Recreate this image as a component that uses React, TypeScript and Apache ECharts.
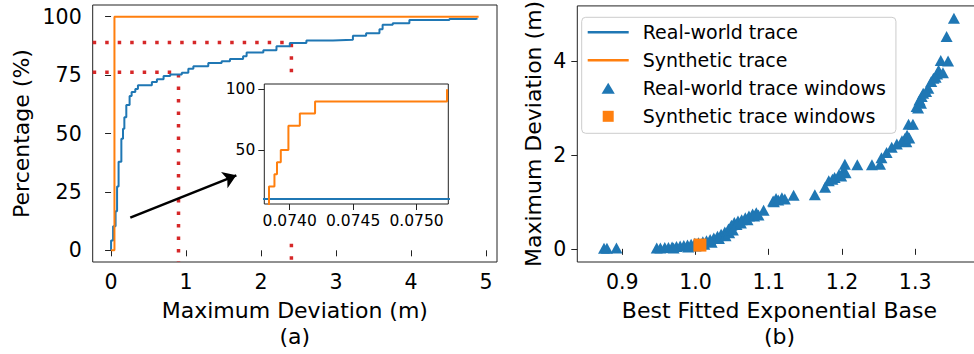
import React, { useEffect, useRef } from "react";
import * as echarts from "echarts";

const FONT = "DejaVu Sans";
const BLUE = "#1f77b4";
const ORANGE = "#ff7f0e";
const RED = "#d62728";

// (a) CDF of maximum deviation, real-world trace: [deviation (m), percentage]
const realCdfX = [0, 0, 0.027, 0.06, 0.08, 0.1, 0.137, 0.159, 0.177, 0.203, 0.247, 0.274, 0.323, 0.358, 0.544, 0.611, 0.7, 0.788, 0.943, 1.03, 1.097, 1.296, 1.474, 1.585, 1.76, 1.807, 2.03, 2.205, 2.383, 2.604, 2.958, 3.224, 3.4, 3.578, 3.62, 3.755, 3.977, 4.51, 4.86, 4.885];
const realCdfY = [0, 4.2, 10.3, 16.7, 27.3, 37.9, 47.8, 52, 57, 62.2, 66.1, 67.8, 69, 70.6, 72, 73.2, 74.6, 75.3, 76, 77.7, 78.8, 80.2, 80.9, 81.9, 83.1, 84.7, 85.6, 87.3, 88.7, 89.8, 90.1, 91.8, 92.9, 94.6, 96.5, 97.2, 98.6, 99, 99.3, 99.3];
// synthetic trace
const synCdfX = [0, 0.045, 0.045, 4.9];
const synCdfY = [0, 0, 100, 100];
// inset (zoom of synthetic trace)
const insetSynX = [0.07375, 0.073837, 0.07388, 0.0739, 0.07393, 0.07399, 0.07408, 0.0742, 0.07524];
const insetSynY = [0, 20, 30, 40, 50, 70, 80, 90, 100];
const insetRealX = [0.0737, 0.0753];
const insetRealY = [9.6, 9.6];
// reference markers (percentiles)
const markDevs = [0.899, 2.404];
const markPcts = [76.2, 89];
// arrow from main plot to inset
const arrowFrom = [0.256, 14.0];
const arrowTo = [1.67, 32.1];

// (b) windows: best fitted exponential base vs maximum deviation
const realBase = [0.875, 0.879, 0.892, 0.947, 0.952, 0.958, 0.963, 0.968, 0.974, 0.979, 0.984, 0.989, 0.994, 0.999, 1.004, 1.01, 1.015, 1.02, 1.025, 1.03, 1.035, 1.04, 1.045, 1.049, 1.053, 1.058, 1.063, 1.068, 1.073, 1.078, 1.083, 1.093, 1.106, 1.11, 1.118, 1.134, 1.163, 1.177, 1.182, 1.19, 1.196, 1.202, 1.204, 1.221, 1.241, 1.252, 1.254, 1.261, 1.268, 1.275, 1.282, 1.286, 1.289, 1.291, 1.297, 1.302, 1.306, 1.309, 1.311, 1.318, 1.322, 1.325, 1.33, 1.332, 1.335, 1.345, 1.343, 1.353,
  0.97, 0.99, 1.0, 1.012, 1.022, 1.032, 1.041, 1.046, 1.051, 1.056, 1.062, 1.071, 1.08, 1.086, 1.107, 1.113, 1.122, 1.187, 1.199, 1.205, 1.288, 1.292, 1.304, 1.308, 1.315, 1.328, 1.338];
const realDev = [0.01, 0.01, 0.02, 0.02, 0.02, 0.03, 0.03, 0.04, 0.05, 0.06, 0.07, 0.08, 0.1, 0.12, 0.13, 0.15, 0.17, 0.2, 0.23, 0.27, 0.31, 0.36, 0.42, 0.5, 0.56, 0.59, 0.62, 0.66, 0.7, 0.74, 0.77, 0.82, 1.02, 1.07, 1.09, 1.14, 1.15, 1.31, 1.45, 1.52, 1.58, 1.66, 1.8, 1.79, 1.79, 1.8, 1.94, 2.05, 2.16, 2.23, 2.3, 2.35, 2.42, 2.65, 2.65, 3.03, 3.17, 3.24, 3.31, 3.42, 3.56, 3.63, 3.72, 3.8, 4.01, 4.0, 4.52, 4.91,
  0.02, 0.04, 0.06, 0.1, 0.14, 0.22, 0.28, 0.34, 0.4, 0.52, 0.55, 0.62, 0.7, 0.72, 1.0, 1.04, 1.06, 1.48, 1.55, 1.62, 2.28, 2.36, 3.0, 3.1, 3.35, 3.65, 3.75];
const synBase = [1.006];
const synDev = [0.08];

const xTicksA = [0, 1, 2, 3, 4, 5];
const yTicksA = [0, 25, 50, 75, 100];
const xTicksInset = [0.074, 0.0745, 0.075];
const yTicksInset = [50, 100];
const xTicksB = [0.9, 1.0, 1.1, 1.2, 1.3];
const yTicksB = [0, 2, 4];

const zip = (a: number[], b: number[]) => a.map((v, i) => [v, b[i]]);

const tickStyle = (values: number[], len = 6) => ({
  show: true,
  length: len,
  customValues: values,
  lineStyle: { color: "#222", width: 1 },
});

const labelStyle = (values: number[], size: number, margin: number, fmt?: (v: number) => string) => ({
  customValues: values,
  fontSize: size,
  fontFamily: FONT,
  color: "#000",
  margin,
  formatter: fmt,
});

export default function App() {
  const ref = useRef<HTMLDivElement>(null);
  useEffect(() => {
    if (!ref.current) return;
    const chart = echarts.init(ref.current, undefined, { renderer: "svg" });
    const option: any = {
      animation: false,
      textStyle: { fontFamily: FONT },
      grid: [
        { left: 92.7, top: 5, width: 404.3, height: 259.3, show: true, borderColor: "#222", borderWidth: 1, backgroundColor: "transparent" },
        { left: 577.3, top: 5, width: 404.3, height: 259.3, show: true, borderColor: "#222", borderWidth: 1, backgroundColor: "transparent" },
        { left: 264.3, top: 84, width: 184, height: 120, show: true, borderColor: "#222", borderWidth: 1, backgroundColor: "#fff", z: 5 },
      ],
      xAxis: [
        {
          gridIndex: 0, type: "value", min: -0.245, max: 5.145,
          axisLine: { show: false }, splitLine: { show: false },
          axisTick: tickStyle(xTicksA),
          axisLabel: labelStyle(xTicksA, 20.5, 9, (v: number) => String(v)),
          name: "Maximum Deviation (m)\n(a)", nameLocation: "middle", nameGap: 35,
          nameTextStyle: { fontSize: 22, lineHeight: 26, color: "#000", fontFamily: FONT },
        },
        {
          gridIndex: 1, type: "value", min: 0.8385, max: 1.3908,
          axisLine: { show: false }, splitLine: { show: false },
          axisTick: tickStyle(xTicksB),
          axisLabel: labelStyle(xTicksB, 20.5, 9, (v: number) => v.toFixed(1)),
          name: "Best Fitted Exponential Base\n(b)", nameLocation: "middle", nameGap: 35,
          nameTextStyle: { fontSize: 22, lineHeight: 26, color: "#000", fontFamily: FONT },
        },
        {
          gridIndex: 2, type: "value", min: 0.0738, max: 0.07525, z: 6,
          axisLine: { show: false }, splitLine: { show: false },
          axisTick: tickStyle(xTicksInset),
          axisLabel: labelStyle(xTicksInset, 15.5, 9, (v: number) => v.toFixed(4)),
        },
      ],
      yAxis: [
        {
          gridIndex: 0, type: "value", min: -5, max: 105,
          axisLine: { show: false }, splitLine: { show: false },
          axisTick: tickStyle(yTicksA),
          axisLabel: labelStyle(yTicksA, 20.5, 11, (v: number) => String(v)),
          name: "Percentage (%)", nameLocation: "middle", nameGap: 60,
          nameTextStyle: { fontSize: 22, color: "#000", fontFamily: FONT },
        },
        {
          gridIndex: 1, type: "value", min: -0.28, max: 5.17,
          axisLine: { show: false }, splitLine: { show: false },
          axisTick: tickStyle(yTicksB),
          axisLabel: labelStyle(yTicksB, 20.5, 11, (v: number) => String(v)),
          name: "Maximum Deviation (m)", nameLocation: "middle", nameGap: 33,
          nameTextStyle: { fontSize: 22, color: "#000", fontFamily: FONT },
        },
        {
          gridIndex: 2, type: "value", min: 5.5, max: 104.4, z: 6,
          axisLine: { show: false }, splitLine: { show: false },
          axisTick: tickStyle(yTicksInset),
          axisLabel: labelStyle(yTicksInset, 15.5, 9, (v: number) => String(v)),
        },
      ],
      legend: {
        orient: "vertical", left: 581.7, top: 17.3,
        padding: [5, 10, 7, 6], itemWidth: 41, itemHeight: 11, itemGap: 8,
        backgroundColor: "rgba(255,255,255,0.8)", borderColor: "#cccccc", borderWidth: 1, borderRadius: 4,
        selectedMode: false,
        textStyle: { fontFamily: FONT, fontSize: 19, color: "#000", lineHeight: 20, padding: [0, 0, 0, 9] },
        data: [
          { name: "Real-world trace", icon: "path://M0,0H41V2.5H0Z" },
          { name: "Synthetic trace", icon: "path://M0,0H41V2.5H0Z" },
          { name: "Real-world trace windows", icon: "path://M0,10L6,0L12,10Z" },
          { name: "Synthetic trace windows", icon: "path://M0,0H10V10H0Z" },
        ],
      },
      graphic: [
        { type: "rect", shape: { x: 262, y: 74, width: 192, height: 164 }, style: { fill: "#fff" }, z: 4, silent: true },
      ],
      series: [
        {
          type: "line", xAxisIndex: 0, yAxisIndex: 0, symbol: "none", z: 1,
          data: [[-0.245, markPcts[0]], [markDevs[0], markPcts[0]], [markDevs[0], -5]],
          lineStyle: { color: RED, width: 3.5, type: [3.5, 9], cap: "butt" },
        },
        {
          type: "line", xAxisIndex: 0, yAxisIndex: 0, symbol: "none", z: 1,
          data: [[-0.245, markPcts[1]], [markDevs[1], markPcts[1]], [markDevs[1], -5]],
          lineStyle: { color: RED, width: 3.5, type: [3.5, 9], cap: "butt" },
        },
        {
          name: "Real-world trace", type: "line", xAxisIndex: 0, yAxisIndex: 0, symbol: "none", step: "end",
          data: zip(realCdfX, realCdfY), color: BLUE,
          itemStyle: { color: BLUE },
          lineStyle: { color: BLUE, width: 2 },
        },
        {
          name: "Synthetic trace", type: "line", xAxisIndex: 0, yAxisIndex: 0, symbol: "none",
          data: zip(synCdfX, synCdfY), color: ORANGE,
          itemStyle: { color: ORANGE },
          lineStyle: { color: ORANGE, width: 2 },
          markLine: {
            silent: true, symbol: ["none", "arrow"], symbolSize: 13,
            lineStyle: { color: "#000", width: 2.5, type: "solid" },
            itemStyle: { color: "#000" },
            label: { show: false }, emphasis: { disabled: true },
            data: [[{ coord: arrowFrom }, { coord: arrowTo }]],
          },
        },
        {
          type: "line", xAxisIndex: 2, yAxisIndex: 2, symbol: "none", z: 7,
          data: zip(insetRealX, insetRealY), lineStyle: { color: BLUE, width: 2 },
        },
        {
          type: "line", xAxisIndex: 2, yAxisIndex: 2, symbol: "none", step: "end", z: 7,
          data: zip(insetSynX, insetSynY), lineStyle: { color: ORANGE, width: 2 },
        },
        {
          name: "Real-world trace windows", type: "scatter", xAxisIndex: 1, yAxisIndex: 1,
          symbol: "triangle", symbolSize: [12, 11], color: BLUE,
          itemStyle: { color: BLUE, opacity: 1 },
          data: zip(realBase, realDev),
        },
        {
          name: "Synthetic trace windows", type: "scatter", xAxisIndex: 1, yAxisIndex: 1,
          symbol: "rect", symbolSize: 13, color: ORANGE, z: 3,
          itemStyle: { color: ORANGE, opacity: 1 },
          data: zip(synBase, synDev),
        },
      ],
    };
    chart.setOption(option);
    return () => chart.dispose();
  }, []);
  return (
    <div
      ref={ref}
      style={{ position: "fixed", left: 0, top: 0, width: 1000, height: 354, background: "#fff" }}
    />
  );
}
